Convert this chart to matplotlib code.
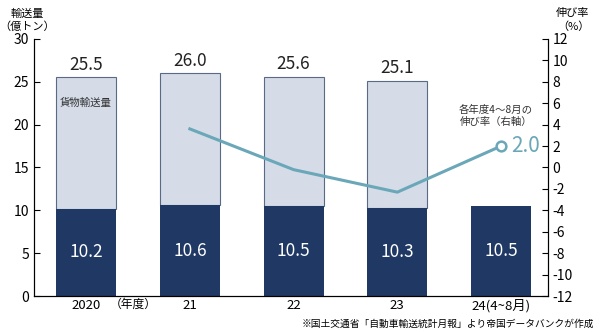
import matplotlib.pyplot as plt
import matplotlib.transforms as mtransforms

plt.rcParams['font.family'] = ['Noto Sans CJK JP', 'DejaVu Sans']
plt.rcParams['axes.unicode_minus'] = False

years = ["2020", "21", "22", "23", "24(4~8月)"]
total = [25.5, 26.0, 25.6, 25.1]          # 貨物輸送量 (年度合計)
apraug = [10.2, 10.6, 10.5, 10.3, 10.5]   # 4~8月分
growth = [3.6, -0.2, -2.3, 2.0]           # 各年度4~8月の伸び率 (21~24)

navy = "#1f3864"
light = "#d5dce8"
teal = "#6aa7b8"

fig = plt.figure(figsize=(6, 3.32), dpi=100)
ax = fig.add_axes([0.057, 0.108, 0.856, 0.775])
x = list(range(len(years)))
w = 0.58

rest = [t - a for t, a in zip(total, apraug)]
ax.bar(x[:4], rest, w, bottom=apraug[:4], color=light, edgecolor="#5a6a84", linewidth=0.8)
ax.bar(x, apraug, w, color=navy)

for i, t in enumerate(total):
    ax.text(i, t + 0.4, f"{t:.1f}", ha="center", va="bottom", fontsize=12.5, color="#222222")
for i, a in enumerate(apraug):
    ax.text(i, a / 2, f"{a:.1f}", ha="center", va="center", fontsize=12.5, color="white")
ax.text(0, 22.5, "貨物輸送量", ha="center", va="center", fontsize=7.5, color="#333333")

ax.set_xlim(-0.5, 4.45)
ax.set_ylim(0, 30)
ax.set_yticks(range(0, 31, 5))
ax.set_xticks(x)
ax.set_xticklabels(years, fontsize=9.5)
ax.tick_params(axis="x", length=0, pad=2)
ax.tick_params(axis="y", direction="in", labelsize=10, length=4)
ax.spines["top"].set_visible(False)
trans = mtransforms.blended_transform_factory(ax.transData, ax.transAxes)
ax.text(0.23, -0.008, "（年度）", transform=trans, fontsize=8.5, va="top", ha="left")

ax2 = ax.twinx()
ax2.set_ylim(-12, 12)
ax2.set_yticks(range(-12, 13, 2))
ax2.tick_params(axis="y", direction="in", labelsize=10, length=4)
ax2.spines["top"].set_visible(False)
ax2.plot(x[1:], growth, color=teal, linewidth=2.2)
ax2.plot(x[-1], growth[-1], "o", markersize=7, markerfacecolor="white",
         markeredgecolor=teal, markeredgewidth=1.8)
ax2.text(x[-1] + 0.1, growth[-1], f"{growth[-1]:.1f}", color=teal, fontsize=15,
         va="center", ha="left")
ax2.text(x[-1] - 0.05, 4.8, "各年度4～8月の\n伸び率（右軸）", ha="center", va="center",
         fontsize=7.5, linespacing=1.3, color="#333333")

fig.text(0.045, 0.975, "輸送量\n（億トン）", ha="center", va="top", fontsize=8, linespacing=1.3)
fig.text(0.955, 0.975, "伸び率\n（%）", ha="center", va="top", fontsize=8, linespacing=1.3)
fig.text(0.99, 0.008, "※国土交通省「自動車輸送統計月報」より帝国データバンクが作成",
         ha="right", va="bottom", fontsize=7)

fig.savefig("out.png", dpi=100)
